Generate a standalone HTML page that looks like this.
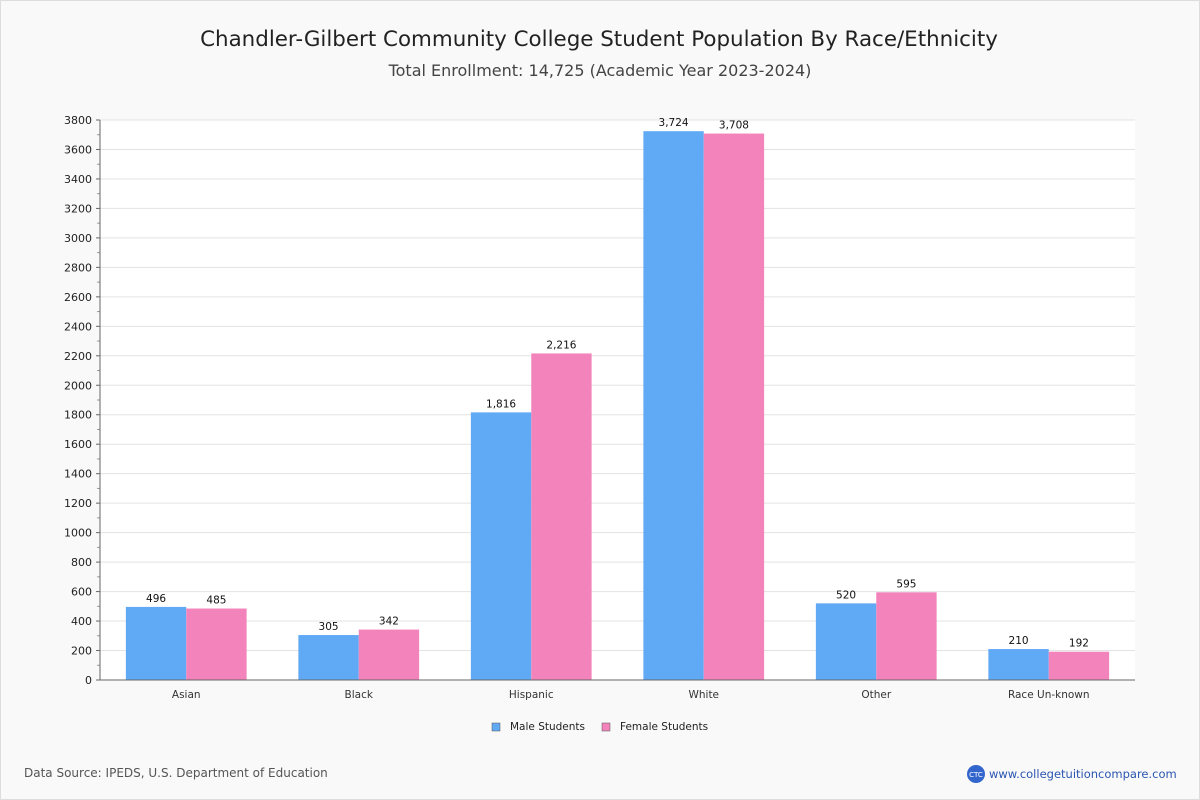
<!DOCTYPE html>
<html><head><meta charset="utf-8"><style>
html,body{margin:0;padding:0;background:#f9f9f9}
svg{display:block;font-family:"DejaVu Sans","Liberation Sans",sans-serif}
</style></head><body>
<svg id="c" width="1200" height="800" viewBox="0 0 1200 800">
<rect x="0.5" y="0.5" width="1199" height="799" fill="#f9f9f9" stroke="#ddd"/>
<text x="599" y="46" text-anchor="middle" font-size="21.4" fill="#222">Chandler-Gilbert Community College Student Population By Race/Ethnicity</text>
<text x="600" y="76" text-anchor="middle" font-size="16" fill="#444">Total Enrollment: 14,725 (Academic Year 2023-2024)</text>
<rect x="100" y="120" width="1035" height="560" fill="#fff"/>
<g id="grid"></g><g id="bars"></g><g id="axes"></g>
<g>
<rect x="492" y="723" width="8" height="8" fill="#60a9f5" stroke="#555" stroke-width="0.5"/>
<text x="510" y="730" font-size="10.5" fill="#222">Male Students</text>
<rect x="602" y="723" width="8" height="8" fill="#f283bb" stroke="#555" stroke-width="0.5"/>
<text x="620" y="730" font-size="10.5" fill="#222">Female Students</text>
</g>
<text x="24" y="777" font-size="12" fill="#555">Data Source: IPEDS, U.S. Department of Education</text>
<circle cx="976" cy="774" r="9" fill="#3366cc"/>
<text x="976" y="777" font-size="7" text-anchor="middle" fill="#fff">CTC</text>
<text x="989" y="778" font-size="11.5" fill="#2a55b0">www.collegetuitioncompare.com</text>
</svg>
<script>
const categories=["Asian","Black","Hispanic","White","Other","Race Un-known"];
const maleValues=[496,305,1816,3724,520,210];
const femaleValues=[485,342,2216,3708,595,192];
const yTicks=[0,200,400,600,800,1000,1200,1400,1600,1800,2000,2200,2400,2600,2800,3000,3200,3400,3600,3800];
const NS="http://www.w3.org/2000/svg";
const X0=100,X1=1135,Y0=680,Y1=120,YMAX=3800;
const y=v=>Y0-(v/YMAX)*(Y0-Y1);
const band=(X1-X0)/categories.length;
const xc=i=>X0+band*(i+0.5);
function mk(tag,attrs,parent,text){const e=document.createElementNS(NS,tag);for(const k in attrs)e.setAttribute(k,attrs[k]);if(text!=null)e.textContent=text;document.getElementById(parent).appendChild(e);return e;}
yTicks.forEach(t=>{
  const g=mk("line",{x1:X0,x2:X1,y1:y(t),y2:y(t),stroke:"#e3e3e3"},"grid");
  
  
  const l=mk("text",{x:92,y:y(t)+4,"text-anchor":"end","font-size":11,fill:"#222"},"axes",String(t));
  
  
  mk("line",{x1:96,x2:100,y1:y(t),y2:y(t),stroke:"#666"},"axes");
});
for(let v=100;v<YMAX;v+=200){mk("line",{x1:97,x2:100,y1:y(v),y2:y(v),stroke:"#999"},"axes");}
mk("line",{x1:X0,x2:X0,y1:Y1,y2:Y0,stroke:"#666"},"axes");
mk("line",{x1:X0,x2:X1,y1:Y0,y2:Y0,stroke:"#666"},"axes");
const bw=band*0.35;
const fmt=v=>v.toLocaleString("en-US");
categories.forEach((c,i)=>{
  const cx=xc(i);
  const m=mk("rect",{x:cx-bw,y:y(maleValues[i]),width:bw,height:Y0-y(maleValues[i]),fill:"#60a9f5"},"bars");
  
  
  const f=mk("rect",{x:cx,y:y(femaleValues[i]),width:bw,height:Y0-y(femaleValues[i]),fill:"#f283bb"},"bars");
  
  
  const ml=mk("text",{x:cx-bw/2,y:y(maleValues[i])-5,"text-anchor":"middle","font-size":10.5,fill:"#111"},"bars",fmt(maleValues[i]));
  
  
  const fl=mk("text",{x:cx+bw/2,y:y(femaleValues[i])-5,"text-anchor":"middle","font-size":10.5,fill:"#111"},"bars",fmt(femaleValues[i]));
  
  
  const xl=mk("text",{x:cx,y:698,"text-anchor":"middle","font-size":10.5,fill:"#333"},"axes",c);
  
  
});
</script>
</body></html>
